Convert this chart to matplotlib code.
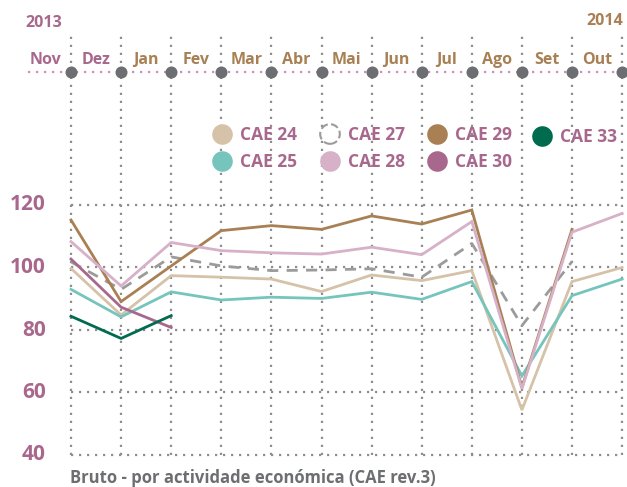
import numpy as np
import matplotlib
matplotlib.use("Agg")
import matplotlib.pyplot as plt

nan = np.nan

# months shown on the timeline (labels sit between the gridlines)
months = ["Nov", "Dez", "Jan", "Fev", "Mar", "Abr", "Mai", "Jun", "Jul", "Ago", "Set", "Out"]
month_colors = ["mauve", "mauve"] + ["brown"] * 10

# series values, one per gridline
cae24 = [99.7, 84.8, 97.4, 96.9, 96.3, 92.3, 97.6, 95.8, 99.0, 54.4, 95.5, 100.0]
cae25 = [93.0, 84.2, 92.2, 89.6, 90.5, 90.1, 92.1, 89.8, 95.5, 65.3, 91.0, 96.3]
cae27 = [101.8, 93.0, 103.4, 100.5, 99.0, 99.2, 99.6, 96.9, 107.7, 81.4, 101.9, nan]
cae28 = [108.3, 94.1, 108.0, 105.4, 104.7, 104.3, 106.5, 104.1, 114.7, 61.2, 111.3, 117.3]
cae29 = [115.2, 89.1, 100.5, 111.8, 113.4, 112.2, 116.5, 113.9, 118.4, 61.6, 112.2, nan]
cae30 = [102.7, 87.3, 80.8] + [nan] * 9
cae33 = [84.4, 77.3, 84.6] + [nan] * 9

yticks = [40, 60, 80, 100, 120]

MAUVE = "#A8688D"
BROWN = "#A88054"
GRAY = "#6D6E71"
GRID = "#8E8E8E"

plt.rcParams["font.family"] = ["Open Sans", "DejaVu Sans"]
plt.rcParams["font.weight"] = "bold"

W, H = 627, 487
fig = plt.figure(figsize=(W / 100, H / 100), dpi=100)
ax = fig.add_axes([0, 0, 1, 1])

# pixel layout -> data coords
X0, DX = 71.0, 50.1
Y120, DY = 205.0, 3.125


def px2x(px):
    return (px - X0) / DX


def px2y(py):
    return 120 + (Y120 - py) / DY


ax.set_xlim(px2x(0), px2x(W))
ax.set_ylim(px2y(H), px2y(0))
ax.axis("off")

n = len(months)
xs = np.arange(n)
dot = (0, (1, 2.6))

# grid
for v in yticks:
    ax.plot([0, n - 1], [v, v], color=GRID, lw=1.6, ls=dot, zorder=1)
for i in xs:
    ax.plot([i, i], [40, px2y(33)], color=GRID, lw=1.6, ls=dot, zorder=1)

# timeline
ty = px2y(72)
ax.plot([px2x(28), px2x(W)], [ty, ty], color="#C990B4", lw=1.6, ls=dot, zorder=2)
ax.scatter(xs, [ty] * n, s=75, color=GRAY, zorder=3, lw=0)
cmap = {"mauve": MAUVE, "brown": BROWN}
for i, (m, c) in enumerate(zip(months, month_colors)):
    ax.text(i - 0.5, px2y(60), m, color=cmap[c], fontsize=11.5, fontweight="bold",
            ha="center", va="center")
ax.text(px2x(25), px2y(23), "2013", color=MAUVE, fontsize=11.5, fontweight="bold",
        ha="left", va="center")
ax.text(px2x(623), px2y(21), "2014", color=BROWN, fontsize=11.5, fontweight="bold",
        ha="right", va="center")

# y tick labels
for v in yticks:
    ax.text(px2x(46), v, str(v), color=MAUVE, fontsize=15, fontweight="bold",
            ha="right", va="center")

# series
series = [
    ("CAE 24", cae24, "#D5C2A8", "-"),
    ("CAE 25", cae25, "#76C5BC", "-"),
    ("CAE 27", cae27, "#9B9B9B", (0, (4, 3))),
    ("CAE 28", cae28, "#D6B1C7", "-"),
    ("CAE 29", cae29, BROWN, "-"),
    ("CAE 30", cae30, MAUVE, "-"),
    ("CAE 33", cae33, "#006B4F", "-"),
]
order = ["CAE 24", "CAE 25", "CAE 27", "CAE 29", "CAE 28", "CAE 30", "CAE 33"]
lookup = {s[0]: s for s in series}
for z, name in enumerate(order):
    _, vals, col, ls = lookup[name]
    ax.plot(xs, vals, color=col, lw=2.0, ls=ls, zorder=4 + z, solid_joinstyle="miter")

# legend (manual, two rows)
leg_pos = {
    "CAE 24": (222, 134), "CAE 25": (222, 161),
    "CAE 27": (330, 134), "CAE 28": (330, 161),
    "CAE 29": (437, 134), "CAE 30": (437, 161),
    "CAE 33": (542, 136),
}
for name, (px, py) in leg_pos.items():
    _, _, col, ls = lookup[name]
    if name == "CAE 27":
        ax.scatter([px2x(px)], [px2y(py)], s=200, facecolor="white", edgecolor=col,
                   linewidths=1.5, linestyles="--", zorder=12)
    else:
        ax.scatter([px2x(px)], [px2y(py)], s=220, color=col, lw=0, zorder=12)
    ax.text(px2x(px + 18), px2y(py + 1), name, color=MAUVE, fontsize=12.5,
            fontweight="bold", ha="left", va="center")

ax.text(px2x(70), px2y(478), "Bruto - por actividade económica (CAE rev.3)",
        color=GRAY, fontsize=12, fontweight="bold", ha="left", va="center")

fig.savefig("out.png", dpi=100)
